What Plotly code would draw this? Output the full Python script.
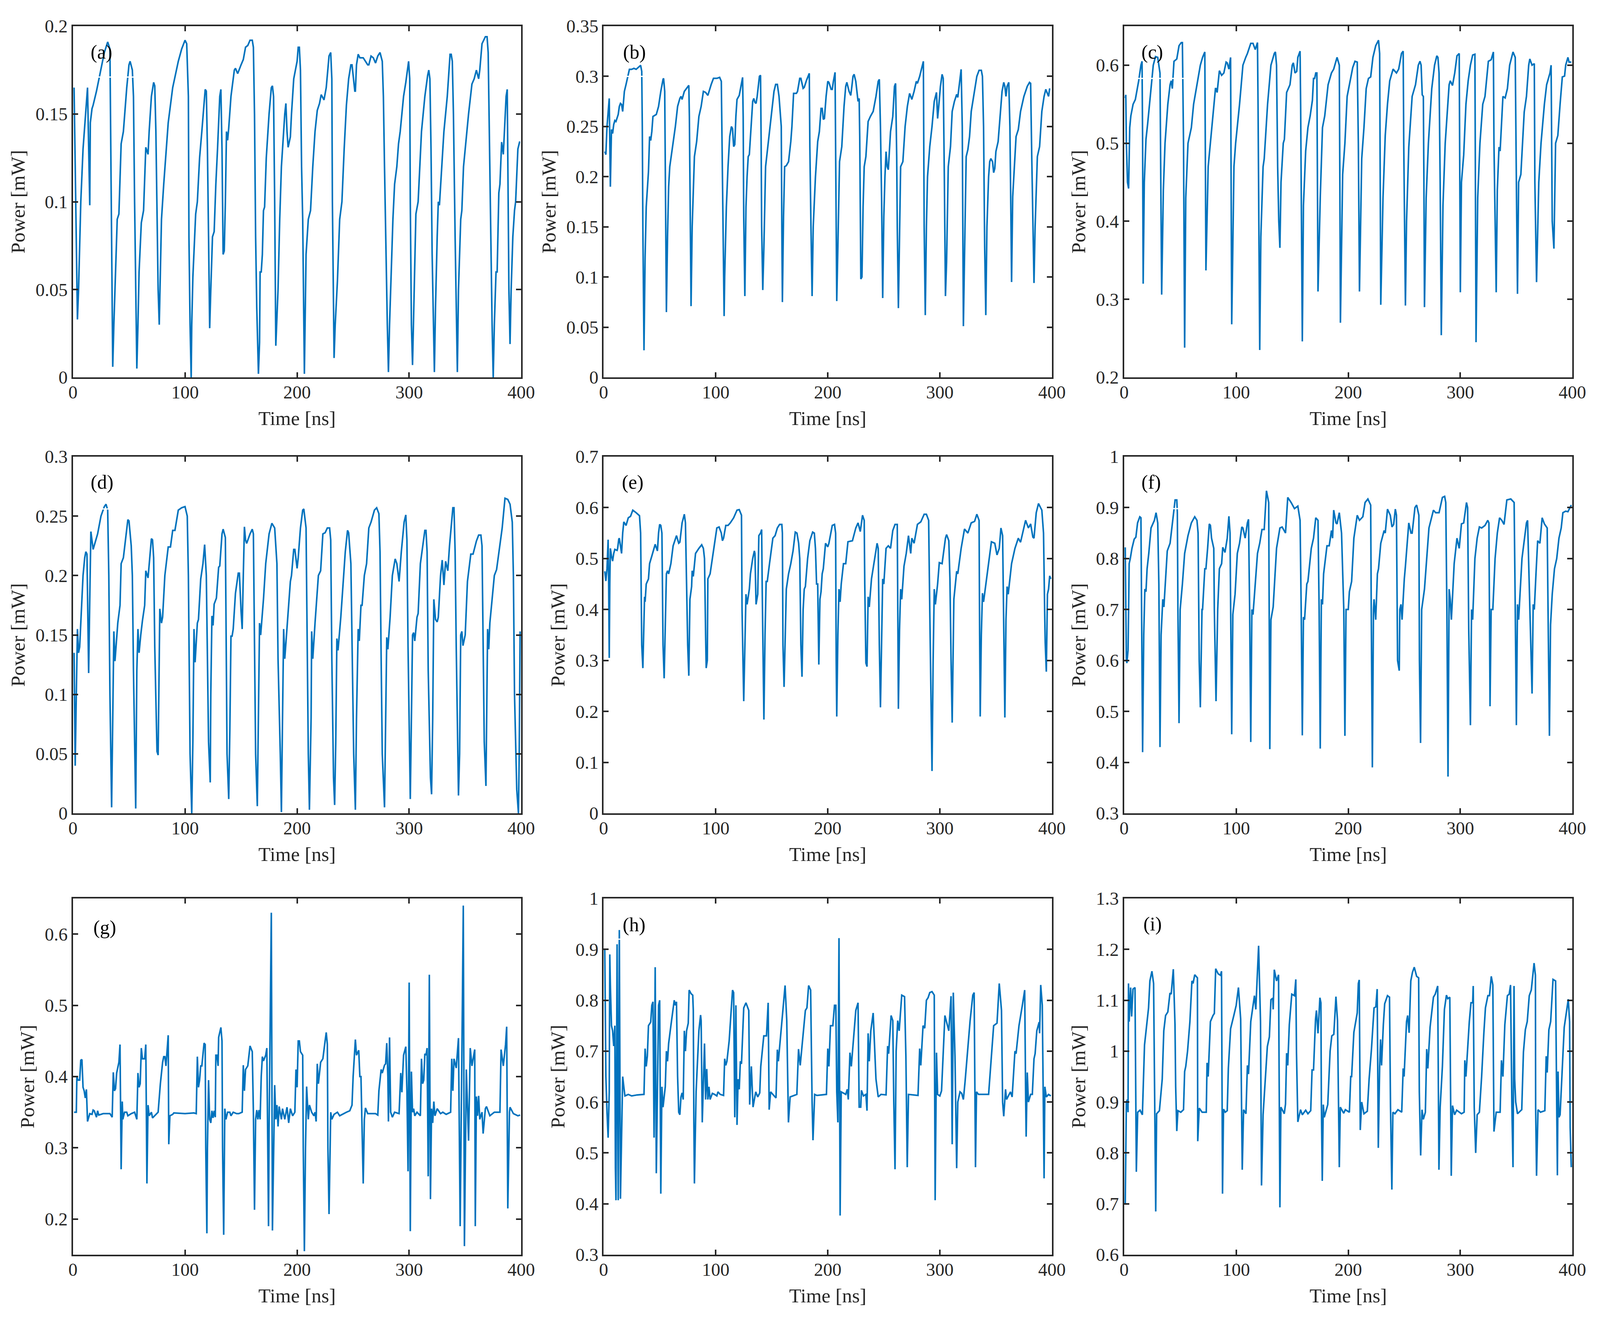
import plotly.graph_objects as go

trace_a = [(1,.165),(4,.033),(5,.05),(7,.1),(9,.13),(12,.155),(13,.165),(15,.098),(15.5,.145),(17,.153),(18,.155),(21,.163),(25,.175),(28,.185),(31,.191),(33,.187),(33.5,.15),(34.5,.07),(35,.04),(35.5,.006),(36.5,.03),(38,.06),(39.5,.09),(41,.093),(43,.133),(45,.14),(48,.165),(50,.178),(51,.18),(53,.175),(54,.16),(55,.1),(56,.05),(57,.005),(58,.03),(59,.06),(61,.088),(63,.095),(65,.131),(67,.127),(68,.14),(70,.16),(72,.168),(73,.166),(74,.14),(75,.1),(76,.05),(77,.03),(78,.06),(79,.09),(81,.11),(85,.145),(89,.165),(94,.18),(97,.187),(100,.192),(101.5,.19),(103,.16),(103.5,.08),(104.5,.03),(105.5,0),(106,.03),(107,.057),(108,.07),(109.5,.093),(111,.1),(113,.125),(115,.14),(117,.158),(118,.164),(119,.163),(120,.13),(121,.08),(122,.028),(123,.05),(124.5,.08),(126,.083),(127.5,.11),(129,.13),(131,.16),(132,.164),(133,.13),(134,.07),(135,.072),(136,.1),(137,.14),(138,.135),(139,.142),(141,.16),(144,.175),(145,.176),(147,.173),(150,.178),(152,.181),(154,.188),(156,.189),(158,.192),(160,.192),(161,.188),(162,.15),(163,.08),(164,.04),(165.5,.002),(166.5,.02),(167,.06),(168,.06),(169,.07),(170,.095),(171,.097),(172.5,.125),(175,.15),(177,.165),(178,.166),(179,.16),(180,.1),(181,.018),(183,.05),(184.5,.09),(186,.12),(189,.15),(190,.156),(191,.14),(192,.131),(194,.137),(195,.15),(197,.17),(200,.18),(201,.188),(202,.188),(203,.175),(204,.12),(205,.09),(206.5,.002),(207,.03),(208,.07),(210,.09),(212,.095),(214,.12),(216,.14),(218,.152),(220,.156),(221.5,.161),(224,.158),(226,.165),(228.5,.183),(230,.185),(231,.17),(231.5,.1),(232.5,.03),(233,.011),(234,.03),(236,.055),(238,.09),(240,.1),(242,.13),(244,.155),(246,.17),(248,.178),(249,.178),(250.5,.17),(251.5,.163),(252,.163),(253,.178),(254.5,.184),(256,.182),(259,.182),(263,.178),(264,.178),(266,.183),(268,.182),(270,.179),(272,.183),(274,.185),(276,.18),(277,.16),(278,.12),(279,.08),(280.5,.03),(281.5,.003),(282.5,.03),(284,.06),(285.5,.09),(287,.11),(289,.12),(290.5,.133),(292,.14),(295,.16),(297,.168),(299.5,.18),(300.5,.17),(301,.1),(302,.03),(303,.007),(304.5,.05),(305.5,.07),(306,.093),(308,.1),(310,.13),(311,.14),(314,.16),(316.5,.172),(317.5,.175),(318.5,.17),(319.5,.13),(320.5,.07),(322.5,.003),(323.5,.04),(325,.08),(326,.1),(327,.098),(329,.12),(331,.14),(334,.16),(336.5,.184),(337.5,.184),(338.5,.18),(339.5,.15),(341,.08),(343,.003),(344,.05),(346,.09),(347,.095),(348.5,.12),(350,.13),(353,.15),(356,.167),(358,.17),(360,.175),(362,.17),(363,.175),(365,.19),(368,.194),(369.5,.194),(370.5,.185),(371.5,.14),(372.5,.09),(374,.03),(375,0),(376,.03),(377.5,.06),(378.5,.06),(380,.105),(381,.11),(382.5,.134),(384,.127),(385,.14),(386.5,.16),(387.5,.164),(388,.13),(389,.05),(390,.019),(391,.05),(392.5,.08),(394,.095),(395,.1),(397,.13),(398.5,.134),(399,.134)]

trace_b = [(1,.225),(2,.222),(3,.25),(4.5,.275),(5,.278),(6,.19),(6.5,.22),(7,.247),(8,.243),(9,.252),(10,.256),(11,.255),(13,.262),(14,.27),(15,.273),(16,.272),(17,.265),(18.5,.285),(20,.292),(21.5,.3),(23,.307),(25,.307),(27,.308),(29,.307),(31,.309),(33,.311),(34,.305),(34.5,.25),(35,.15),(36,.027),(37,.12),(38,.17),(40,.205),(41,.24),(42,.236),(43,.245),(44,.26),(47,.262),(49,.27),(51,.285),(53,.297),(53.5,.298),(54.5,.285),(55,.2),(55.5,.14),(56,.065),(57,.14),(58,.19),(59,.21),(61,.225),(64,.25),(66,.27),(68,.278),(69,.28),(70,.277),(72,.285),(74,.288),(76,.291),(76.5,.26),(77,.2),(78,.071),(79,.15),(81,.22),(83,.235),(85,.26),(87,.27),(89,.285),(91,.284),(93,.281),(96,.292),(98,.298),(101,.298),(103.5,.299),(105,.295),(106,.2),(106.5,.15),(107.5,.061),(108,.1),(109.5,.17),(111,.21),(112.5,.24),(114,.25),(115,.248),(116,.23),(117,.232),(118,.26),(119,.277),(121,.281),(122.5,.29),(124,.299),(124.5,.26),(125,.16),(126,.081),(127,.17),(128,.2),(129,.22),(130,.222),(131.5,.25),(133,.275),(134,.278),(135,.274),(136,.273),(137,.28),(139,.3),(140,.301),(140.5,.24),(141,.15),(142,.087),(143,.13),(144.5,.21),(146,.225),(148,.245),(150,.265),(152,.285),(153.5,.292),(155,.292),(156.5,.28),(158,.26),(158.5,.25),(159,.15),(159.5,.075),(160.5,.16),(161.5,.21),(163,.211),(165,.215),(167,.235),(168,.25),(169.5,.283),(172,.283),(173,.285),(175,.298),(176,.298),(178,.288),(179,.289),(181,.296),(183.5,.303),(184,.23),(185,.15),(186,.081),(187,.15),(189,.2),(191,.235),(192.5,.245),(194,.268),(195,.268),(196,.257),(197,.258),(198.5,.28),(200,.295),(201,.294),(203,.287),(204,.287),(205,.295),(206.5,.304),(207,.23),(207.5,.16),(208,.076),(209,.13),(210.5,.215),(212.5,.23),(214.5,.27),(216,.29),(217,.294),(219,.285),(220.5,.281),(221.5,.29),(222.5,.3),(223.5,.302),(225,.295),(227,.275),(228,.278),(228.5,.24),(229.5,.098),(230.5,.1),(231.5,.17),(232.5,.21),(234,.22),(236,.255),(238,.26),(240.5,.265),(243,.28),(245,.295),(246,.297),(247,.25),(248,.18),(249,.079),(250,.16),(251,.2),(252,.225),(253,.21),(254,.207),(256,.245),(258,.26),(259.5,.29),(260.5,.293),(261.5,.22),(262,.15),(263,.069),(264,.15),(265,.21),(267,.215),(269,.25),(271,.27),(273,.283),(275,.277),(277,.285),(279,.295),(280,.293),(282,.3),(285,.314),(285.3,.315),(285.7,.22),(286,.15),(287,.062),(288,.15),(289,.2),(291,.23),(293,.25),(295,.275),(297,.284),(298,.258),(299,.27),(300.5,.29),(302,.302),(303,.298),(304,.2),(305,.081),(306,.115),(307.5,.21),(309.5,.23),(311,.265),(313,.275),(315,.282),(316,.279),(318,.3),(319,.307),(320,.25),(320.5,.15),(321,.051),(322,.12),(323.5,.22),(325,.227),(326.5,.24),(328,.265),(330,.28),(333,.3),(335,.306),(337,.306),(338,.3),(339,.25),(340,.13),(341,.062),(342,.15),(343.5,.2),(344.5,.215),(345.5,.218),(347,.215),(348,.204),(349,.208),(350,.225),(352,.235),(354,.265),(355.5,.285),(357,.294),(358,.29),(359,.28),(360,.29),(361.5,.294),(362.5,.25),(363.5,.15),(364,.095),(365,.18),(366.5,.21),(368,.24),(370,.247),(372,.265),(375,.28),(378,.29),(380,.294),(381,.293),(382,.22),(383,.15),(384,.094),(385,.15),(387,.22),(389,.23),(391,.265),(393,.28),(394.5,.287),(397,.28),(398,.288)]

trace_c = [(1,.558),(1.5,.562),(2,.5),(3,.45),(4,.442),(5,.52),(6,.535),(8,.55),(10,.556),(13,.58),(15,.6),(16,.605),(16.5,.5),(17,.32),(18,.45),(19.5,.505),(21,.525),(24,.57),(26,.6),(28,.611),(30,.61),(32,.59),(32.5,.5),(33,.4),(33.5,.306),(35,.44),(36.5,.5),(39,.55),(41,.575),(42,.58),(43,.57),(44.5,.605),(47,.608),(49,.625),(51,.629),(52,.629),(53,.5),(54,.238),(55,.43),(57,.5),(60,.52),(62,.55),(65,.575),(68,.6),(70,.61),(72,.617),(72.5,.48),(73,.337),(75,.47),(77,.5),(80,.55),(81.5,.57),(82,.57),(83,.565),(85,.593),(87,.587),(89,.59),(91,.604),(92,.603),(93.5,.595),(95,.61),(95.5,.48),(96,.268),(98,.47),(99.5,.5),(103,.55),(106,.6),(108.5,.61),(110,.615),(113,.628),(115,.628),(117,.62),(119,.629),(119.5,.55),(120,.42),(121,.235),(122,.38),(124,.47),(125,.48),(128,.55),(131,.6),(134,.615),(135,.617),(136,.6),(137,.47),(138,.4),(139,.366),(140,.45),(142,.5),(143,.505),(145,.565),(148,.575),(150,.6),(151,.603),(152.5,.59),(154,.592),(155,.61),(157,.618),(157.5,.55),(158,.45),(159,.246),(160,.42),(162,.49),(164,.52),(166,.535),(168,.555),(169,.583),(170,.583),(171,.59),(172,.59),(172.5,.45),(173,.31),(175,.43),(177,.52),(179,.535),(182,.575),(185,.59),(187,.595),(190,.61),(192,.6),(192.5,.45),(193,.27),(195,.46),(197,.5),(199,.56),(201,.575),(204,.597),(206,.605),(208,.604),(209,.5),(210,.31),(212,.48),(214,.52),(216,.57),(218,.583),(220,.585),(222,.61),(224.5,.625),(227,.632),(228,.615),(228.5,.45),(229,.293),(231,.43),(233,.51),(235,.55),(237,.58),(240,.595),(243,.59),(245,.595),(247.5,.615),(249,.618),(249.5,.5),(251,.292),(252,.4),(254,.495),(257,.56),(260,.575),(262.5,.6),(264,.605),(265,.6),(266,.562),(267,.56),(267.5,.45),(268,.29),(269.5,.43),(271.5,.5),(274.5,.57),(277,.6),(279,.612),(280,.61),(281,.59),(282,.45),(283,.254),(284.5,.42),(286.5,.5),(290,.575),(291,.58),(293,.574),(295,.59),(297,.612),(299,.615),(299.5,.45),(300,.309),(301,.45),(303,.485),(305,.55),(307,.58),(309,.6),(311,.613),(313,.614),(313.5,.45),(314,.245),(315.5,.43),(317.5,.5),(320,.55),(322,.56),(325,.605),(327.5,.607),(329.5,.617),(330,.5),(332,.309),(333,.44),(334.5,.495),(335.5,.49),(338,.56),(340,.558),(342,.57),(344,.6),(347,.617),(349,.61),(350,.45),(351,.307),(352,.45),(354,.46),(357,.54),(359,.56),(361,.6),(362,.608),(364,.6),(366,.602),(366.5,.45),(368,.322),(370,.45),(372,.5),(375,.55),(377,.575),(380,.59),(381,.6),(382,.4),(383.5,.365),(385,.5),(387,.51),(389,.55),(391,.585),(393,.586),(394,.6),(396,.61),(397,.604),(399,.604)]

trace_d = [(1,.135),(2,.04),(3,.1),(4,.155),(5,.135),(6,.14),(8,.18),(9,.2),(10.5,.215),(11.5,.22),(12.5,.218),(13,.18),(14,.118),(15,.18),(16,.237),(18,.222),(20.5,.23),(22,.235),(25,.25),(28,.258),(29.5,.26),(31,.255),(32,.2),(33,.1),(34.5,.005),(35.5,.07),(36.5,.153),(37.5,.128),(38.5,.14),(40,.16),(42,.175),(43,.21),(45,.215),(47,.23),(49,.247),(50,.246),(52,.225),(53,.2),(54,.12),(56,.004),(57,.12),(58,.155),(59,.135),(60.5,.15),(62,.162),(64,.175),(65,.204),(67,.198),(68,.21),(70,.231),(71,.23),(72,.215),(73,.14),(75,.052),(76,.049),(76.5,.1),(77.5,.172),(79,.16),(80,.165),(82,.2),(85,.224),(87,.224),(89,.238),(91,.238),(94,.255),(97,.257),(100,.258),(102,.25),(103,.2),(104.5,.05),(106,0),(107,.06),(108,.155),(109,.127),(111,.16),(112,.163),(114,.197),(116,.21),(117.5,.226),(119,.2),(120,.12),(121,.06),(122.5,.026),(123,.1),(124,.166),(125,.158),(126,.176),(128,.181),(130,.207),(131,.208),(133,.235),(134,.239),(136,.232),(137,.1),(137.5,.05),(139,.012),(140,.07),(141,.149),(142,.149),(143,.155),(145,.185),(147.5,.202),(148.5,.202),(150,.17),(151,.155),(152,.2),(153,.241),(154,.23),(155,.227),(158,.235),(160,.239),(161,.235),(162,.15),(163,.05),(164.5,.006),(165.5,.08),(166.5,.16),(167.5,.15),(170,.18),(172,.21),(175,.235),(177.5,.244),(180,.24),(182,.21),(183,.13),(185,.05),(186,.001),(187,.08),(188,.155),(189,.13),(190.5,.15),(192,.17),(194,.195),(195,.2),(197,.222),(198,.222),(200,.206),(201,.215),(203,.24),(205,.255),(206,.256),(208,.24),(209,.15),(210,.05),(211,.003),(212.5,.08),(213,.153),(214,.13),(216,.16),(219,.2),(221,.204),(223,.235),(225,.236),(227,.24),(229,.24),(230,.23),(231,.13),(232.5,.03),(233.5,.007),(234.5,.06),(235.5,.147),(236.5,.137),(239,.165),(241,.195),(243,.22),(245,.238),(246,.236),(248,.21),(249,.15),(250.5,.05),(252,.003),(253,.08),(254.5,.155),(255.5,.145),(257,.175),(258,.175),(260,.2),(262,.21),(264,.24),(266,.245),(269,.255),(271,.257),(273,.252),(274,.22),(275,.13),(276,.05),(278,.005),(279,.07),(280,.148),(281,.138),(283,.165),(285,.2),(287.5,.214),(289,.21),(291,.195),(293,.22),(295.5,.245),(297,.251),(298,.23),(299,.14),(301,.012),(302,.08),(303,.15),(304,.152),(305,.145),(307,.165),(308,.168),(310,.21),(312,.225),(314,.238),(315,.238),(316,.22),(317,.12),(319,.03),(320,.016),(321,.08),(322,.18),(323.5,.163),(325,.161),(326,.165),(328,.2),(329.5,.213),(331,.192),(332.5,.212),(334.5,.204),(336,.225),(339,.257),(340,.257),(341,.22),(342,.14),(344,.015),(345,.05),(346,.15),(347,.153),(348,.141),(350,.15),(352,.195),(354,.21),(355,.218),(357,.218),(360,.229),(362,.234),(364,.234),(365,.225),(366,.15),(367,.06),(368.5,.023),(369,.08),(370,.155),(371,.138),(372,.16),(374,.18),(376,.2),(378,.205),(380,.22),(383,.24),(385.5,.265),(388,.264),(390,.26),(392,.245),(393,.2),(394,.1),(396,.02),(397.5,0),(398.2,.05),(399,.153)]

trace_e = [(1,.475),(2,.456),(3,.48),(4,.537),(4.5,.45),(5,.305),(5.5,.45),(6,.52),(7,.505),(8,.495),(9,.51),(10,.518),(12,.516),(12.5,.52),(13.5,.538),(14,.54),(15,.525),(16,.51),(17,.55),(18,.572),(20,.565),(22,.58),(24,.583),(26,.595),(29,.59),(32,.584),(33,.55),(33.5,.4),(34,.33),(35,.285),(36,.4),(36.5,.425),(37,.415),(38,.45),(40,.46),(41,.49),(43,.505),(45.5,.525),(46,.528),(48,.515),(49,.55),(50,.567),(51,.565),(52,.55),(52.5,.4),(53,.33),(54,.265),(55,.38),(56,.47),(57,.476),(58,.47),(60,.49),(62,.525),(65,.545),(67,.53),(68,.532),(70,.57),(72,.587),(73,.57),(74,.45),(75,.33),(76,.27),(77,.42),(78.5,.445),(79,.476),(80,.465),(82,.51),(85,.52),(87.5,.527),(89,.52),(90,.5),(91,.35),(91.5,.285),(92.5,.3),(93,.46),(95,.47),(97,.5),(99,.53),(101,.56),(103,.562),(105,.55),(106,.535),(107,.54),(109,.565),(111,.565),(113,.57),(116,.58),(119,.595),(121,.596),(123,.585),(123.5,.4),(125,.22),(126,.33),(127,.43),(128,.41),(130,.44),(131,.47),(133,.5),(134.5,.515),(135,.51),(136,.41),(137.5,.43),(138.5,.545),(140,.55),(141,.557),(141.5,.44),(143,.184),(144,.35),(145,.455),(146,.455),(148,.49),(151,.54),(153,.545),(155,.56),(157,.567),(159,.567),(159.5,.55),(160,.33),(161,.248),(162,.33),(163,.44),(165,.47),(167,.49),(169,.515),(171,.552),(172.5,.55),(174,.53),(175,.5),(176,.33),(177,.268),(178,.4),(179,.44),(180,.445),(182,.5),(184,.535),(186.5,.552),(188,.55),(189,.52),(190,.45),(191,.45),(192,.292),(193,.42),(194,.435),(195,.47),(196,.48),(198,.53),(200,.523),(201,.53),(204,.565),(206,.567),(207,.55),(207.5,.3),(208,.19),(209,.35),(210,.44),(211,.415),(212,.45),(214,.49),(216,.49),(218,.533),(222,.535),(225,.56),(227,.57),(229,.553),(231,.585),(232.5,.575),(233,.45),(234,.295),(235,.288),(236,.425),(237,.405),(239,.46),(241,.49),(243,.52),(244,.53),(245,.52),(246,.33),(247,.208),(248,.33),(249,.46),(250,.45),(252,.52),(254,.525),(256,.52),(258,.555),(260,.567),(262,.567),(262.5,.4),(263,.205),(264,.36),(265,.44),(266,.42),(268,.485),(270,.51),(272,.545),(274,.51),(275,.54),(277,.53),(280,.567),(283,.572),(286,.587),(288,.587),(290,.575),(291,.4),(293,.083),(294,.3),(295,.44),(296,.41),(298,.45),(299.5,.492),(302,.49),(305,.54),(306,.547),(308,.535),(309,.46),(310,.3),(311,.178),(312.5,.42),(315,.475),(316,.47),(319,.52),(322,.558),(325,.55),(328,.57),(331,.573),(333,.587),(335,.575),(335.5,.35),(336,.19),(337,.35),(338,.432),(339,.415),(341,.45),(344,.5),(346,.533),(349,.53),(351,.507),(353,.52),(354.5,.56),(356,.545),(357,.38),(358,.188),(359,.38),(360,.445),(361,.43),(364,.49),(367,.52),(370,.54),(372,.532),(374,.55),(376.5,.575),(379,.56),(381,.568),(383,.542),(384,.54),(386,.59),(388,.608),(391,.595),(392.5,.55),(393.5,.4),(394,.335),(395,.278),(396,.43),(397,.44),(398,.466),(399,.46)]

trace_f = [(1,.822),(2,.6),(2.5,.595),(3.5,.62),(4,.7),(4.5,.79),(5.5,.8),(7,.82),(9,.838),(10.5,.842),(12,.87),(14,.882),(15,.88),(15.5,.7),(16,.55),(16.5,.42),(17.5,.65),(18.5,.74),(19.5,.735),(20.5,.78),(22,.81),(24,.86),(27,.875),(28.5,.89),(30,.87),(31,.75),(32,.43),(33,.65),(34.5,.72),(35.5,.705),(37,.76),(38.5,.815),(41,.83),(43,.87),(45.5,.915),(47,.915),(47.5,.89),(48,.7),(49,.477),(50,.7),(52,.75),(54,.81),(57,.845),(60,.87),(63,.882),(65,.875),(66,.85),(67,.6),(68,.508),(69.5,.7),(70,.7),(72,.78),(73,.78),(74.5,.82),(76,.868),(77,.865),(78,.84),(80,.82),(80.5,.7),(82,.52),(83.5,.7),(85,.78),(87,.79),(88,.822),(90,.812),(92,.84),(93.5,.883),(94.5,.85),(95,.7),(96,.455),(97,.69),(99,.73),(101,.81),(103,.83),(105,.862),(106,.86),(108,.84),(110,.87),(111,.877),(112,.7),(113,.44),(114,.7),(115,.69),(117,.75),(119,.81),(121,.83),(123,.857),(125,.857),(127,.933),(129,.91),(129.5,.7),(130,.426),(131,.68),(133,.705),(136,.82),(139,.86),(141,.862),(144,.85),(146,.92),(149,.91),(152,.898),(155,.903),(157,.875),(158,.7),(159,.453),(160,.685),(161,.68),(163,.75),(164,.755),(167,.82),(169,.84),(171,.88),(173,.875),(174,.7),(175,.427),(176,.72),(177,.71),(178,.77),(181,.825),(183,.825),(185,.855),(186,.84),(187,.895),(189,.87),(190,.868),(192,.89),(194,.85),(196,.7),(197,.452),(198,.7),(200,.7),(201,.735),(203,.755),(205,.84),(208,.885),(210,.875),(213,.882),(215,.91),(217.5,.917),(220,.905),(220.5,.7),(221.5,.39),(222.5,.7),(223,.72),(224.5,.68),(226,.77),(227,.78),(229,.83),(232,.855),(233,.85),(235,.897),(237.5,.885),(239,.862),(240.5,.867),(242,.897),(243,.885),(244,.6),(245.5,.58),(246,.7),(247,.71),(248,.68),(250,.76),(251,.785),(254,.87),(256,.85),(257,.85),(259.5,.9),(261,.905),(263,.885),(263.5,.6),(264.5,.438),(265.5,.7),(268,.74),(270,.8),(272,.86),(276,.895),(278,.89),(281,.89),(284,.92),(286,.922),(287,.91),(288,.7),(289,.372),(290,.74),(291,.72),(292,.68),(294.5,.79),(297,.84),(299,.82),(301,.868),(303,.87),(305.5,.91),(306.5,.9),(307.5,.66),(309,.473),(310,.7),(311,.68),(313,.8),(315,.84),(317,.862),(319,.86),(322,.865),(324.5,.875),(325.5,.87),(326,.7),(326.5,.51),(327.5,.7),(329,.7),(331,.8),(333,.85),(335,.88),(337,.875),(339,.867),(341.5,.915),(345,.917),(348,.91),(349,.7),(350,.473),(351,.71),(352,.68),(355,.8),(359,.87),(360,.875),(362,.7),(364,.535),(365,.71),(366,.7),(367.5,.77),(369,.835),(371,.83),(373,.88),(375,.868),(377.5,.86),(378.5,.65),(379.5,.452),(380.5,.67),(382,.73),(384,.78),(386,.8),(388,.84),(390,.86),(391.5,.89),(394,.893),(396,.892),(398,.9),(399,.905)]

trace_g = [(1,.35),(3,.35),(3.5,.4),(4.5,.395),(6,.395),(7,.423),(8,.424),(9,.385),(10,.38),(11,.37),(12,.382),(13,.337),(15,.348),(17,.347),(18,.353),(19,.352),(21,.343),(22,.352),(23,.346),(27,.348),(33,.348),(35,.343),(36,.406),(37,.38),(38,.383),(39,.405),(41,.42),(42,.445),(43,.27),(44,.365),(44.5,.34),(46,.35),(48,.35),(49,.345),(52,.348),(55,.35),(57,.34),(58,.405),(59,.385),(60,.39),(61,.44),(62,.425),(64,.425),(65,.445),(66,.25),(67,.36),(68,.345),(70,.35),(71,.342),(74,.347),(76,.35),(78,.39),(80,.42),(81,.428),(82,.428),(83,.415),(85,.458),(85.5,.305),(86.5,.345),(89,.347),(90,.349),(100,.348),(108,.349),(110,.348),(111,.428),(112,.385),(113,.395),(114,.415),(115,.415),(117,.447),(118,.445),(118.5,.3),(119.5,.18),(120,.3),(121,.395),(122,.34),(123,.335),(124,.352),(125,.342),(126,.352),(127,.343),(127.5,.43),(128.5,.43),(129.5,.415),(130,.455),(132,.469),(133,.45),(133.5,.3),(134.5,.178),(135.5,.355),(136.5,.34),(138,.35),(140,.35),(141,.345),(143,.35),(146,.348),(148,.348),(151,.35),(152,.416),(153,.38),(154,.41),(156,.415),(158,.443),(160,.435),(161,.35),(162,.213),(163,.34),(164,.353),(165,.34),(166,.353),(167,.34),(168,.4),(169,.428),(170,.422),(172,.43),(173,.44),(174,.3),(174.5,.19),(175,.325),(176,.468),(177,.63),(178,.184),(180,.388),(181,.34),(182,.36),(183,.33),(184,.358),(186,.34),(187,.355),(189,.34),(191,.357),(192.5,.335),(194,.355),(196,.345),(198,.35),(199,.41),(200,.385),(201,.45),(202,.45),(203,.435),(205,.43),(205.5,.3),(206.5,.155),(207.5,.3),(208.5,.386),(210,.34),(211,.36),(213,.35),(215,.345),(216,.35),(217,.337),(218,.418),(219,.39),(221,.42),(223,.425),(225,.45),(226,.462),(227,.445),(227.5,.3),(228.5,.207),(230,.35),(231,.34),(233,.347),(236,.35),(238,.345),(244,.35),(247,.352),(249,.36),(250,.4),(252,.452),(253,.43),(255,.437),(256,.4),(257,.4),(259,.25),(260,.34),(261,.356),(263,.348),(270,.348),(272,.346),(273,.38),(275,.41),(276,.405),(278,.416),(279,.418),(280,.447),(281,.4),(281.5,.337),(282.5,.455),(283.5,.35),(285,.343),(287,.35),(291,.348),(292.5,.405),(293.5,.378),(295,.43),(297,.442),(298,.38),(299,.267),(300,.532),(301,.183),(302,.407),(303,.35),(304,.355),(305,.345),(307,.35),(310,.345),(311,.425),(312,.39),(313,.395),(314,.432),(315,.43),(316,.44),(317,.26),(318,.543),(319,.228),(320,.355),(321,.335),(322,.365),(323,.345),(325,.355),(328,.348),(330,.35),(333,.347),(337,.35),(338,.425),(339,.38),(340,.425),(342,.412),(344,.454),(345.5,.19),(347.5,.505),(348.3,.64),(349.3,.162),(351,.41),(353,.31),(354.5,.44),(356,.415),(358.5,.438),(359,.19),(360,.372),(361,.345),(362,.373),(363,.34),(365,.35),(366,.32),(368,.355),(369,.358),(372,.345),(376,.35),(381,.35),(382,.438),(384,.415),(386,.445),(387,.47),(388,.215),(389.5,.35),(390,.357),(393,.348),(397,.345),(399,.346)]

trace_h = [(1,.9),(2,.65),(3,.58),(4,.53),(5,.62),(5.5,.89),(6,.83),(7,.75),(8,.74),(9,.71),(10,.75),(10.5,.47),(11,.407),(12,.91),(13,.407),(14,.938),(15,.41),(16,.55),(17,.65),(18,.63),(19,.612),(22,.615),(25,.612),(30,.614),(36,.615),(37,.705),(38,.67),(39,.69),(40,.75),(42,.757),(43,.79),(44,.797),(45,.53),(46,.865),(47,.46),(48,.62),(49,.79),(50,.8),(51,.42),(52,.63),(53,.59),(55,.63),(56,.7),(57,.68),(58,.715),(60,.75),(63,.8),(64,.79),(65,.797),(66,.65),(67,.58),(68,.575),(69,.61),(70,.618),(71,.605),(72,.74),(73,.7),(74,.74),(75.5,.755),(76.3,.82),(78,.813),(79.5,.81),(80,.78),(80.5,.56),(81,.44),(82.5,.62),(84,.7),(85,.74),(86.5,.771),(87,.76),(88,.56),(90,.715),(91,.605),(92,.665),(93,.605),(94,.63),(95,.605),(97,.617),(99,.615),(101,.612),(102,.62),(104,.615),(107,.613),(108,.685),(109,.672),(110,.68),(112,.72),(115,.82),(116,.815),(117,.57),(118,.79),(119,.555),(120,.645),(121,.625),(122,.68),(123,.675),(125,.785),(127,.795),(129.5,.78),(130.3,.595),(131.8,.67),(133.3,.59),(135.7,.62),(137.5,.61),(139.3,.618),(140.2,.67),(142.9,.73),(145.3,.73),(146.8,.795),(147.7,.585),(149,.62),(153.8,.608),(155,.703),(155.9,.68),(161.9,.829),(163.4,.76),(164.9,.56),(166.4,.61),(172.4,.615),(173.9,.704),(175.4,.672),(180,.78),(181.4,.785),(182.9,.829),(184.7,.82),(186,.6),(186.8,.525),(188.3,.615),(190.3,.613),(198.8,.615),(200,.705),(201,.67),(202.4,.75),(204.5,.75),(206,.79),(207.2,.79),(208,.62),(209,.56),(210,.922),(211,.377),(212,.62),(216,.615),(217.4,.625),(218.3,.605),(219.8,.697),(221,.67),(225,.78),(227,.795),(228,.59),(229.4,.59),(230,.623),(231.8,.612),(234,.615),(235,.583),(236,.735),(237,.68),(238.4,.74),(240.5,.775),(243,.645),(245,.61),(247.5,.615),(252,.614),(253.4,.71),(254.3,.695),(256.5,.77),(258,.76),(258.9,.6),(260,.468),(261,.7),(262.4,.76),(263.7,.74),(266,.81),(268.5,.807),(269.7,.69),(270.9,.472),(272,.615),(280.5,.613),(282,.705),(283,.672),(285,.75),(286.5,.745),(288,.8),(289.5,.805),(291,.815),(293,.817),(295,.81),(295.8,.407),(297,.697),(298,.615),(300,.612),(301.5,.622),(303,.69),(304.5,.77),(308,.74),(310,.808),(311,.517),(312,.815),(313.5,.69),(315,.47),(316,.6),(318,.62),(319.5,.617),(321,.605),(322.5,.64),(325,.71),(327,.76),(329.4,.81),(330.6,.815),(331.8,.472),(332.7,.62),(334.5,.615),(343.5,.615),(345,.66),(348,.75),(351,.755),(353,.833),(355,.78),(356,.6),(357,.572),(358.6,.625),(359.5,.605),(363,.62),(364.5,.61),(367,.7),(368,.695),(370.6,.75),(373.6,.79),(375.7,.82),(376.6,.6),(377,.532),(378,.658),(379,.6),(381,.615),(382.5,.615),(384,.685),(385,.695),(386.5,.74),(388.6,.757),(389,.735),(390,.83),(391.4,.79),(392.6,.57),(393,.45),(393.7,.63),(395,.61),(397,.615),(399,.612)]

trace_i = [(1,.7),(2,.9),(3,.905),(3.5,.88),(3.9,1.133),(4.5,1.058),(5.8,1.125),(6.7,1.068),(7.9,1.122),(9.7,1.125),(10.9,.763),(12.1,.88),(14.2,.884),(16.3,.875),(18.2,1.012),(20.3,1.058),(21.8,1.085),(23,1.138),(24.8,1.157),(26.3,1.133),(27.2,.945),(28.2,.685),(29,.877),(31.5,.883),(34,.945),(35.4,1.04),(37,1.07),(39,1.077),(40.9,1.114),(42,1.112),(43.9,1.161),(45.4,1.052),(46,.93),(47,.843),(48,.883),(50.6,.88),(53,.885),(54,.96),(55,.97),(56.6,1.0),(58.7,1.058),(60.5,1.138),(61.5,1.133),(63,1.15),(65.4,1.144),(65.7,.823),(67,.888),(69.6,.88),(73.3,.88),(74,.977),(75,.95),(77,1.058),(79.3,1.07),(80.5,1.074),(81.7,1.162),(83.9,1.152),(86,1.149),(86.9,1.157),(87.8,.72),(88.7,.886),(90.2,.88),(92,.883),(93,.966),(95,1.044),(98,1.071),(100,1.09),(102,1.125),(104,1.063),(104.8,.89),(105.4,.767),(106.6,.885),(108.7,.877),(110,.972),(111,.955),(113,1.058),(115,1.09),(116.3,1.109),(117.5,1.082),(120,1.207),(121.7,1.058),(122.6,.736),(124,.875),(126,.945),(127.8,1.009),(129.6,1.028),(131,1.101),(132.6,1.104),(133,1.082),(134,1.16),(136,1.138),(137.8,1.15),(138.4,.945),(139,.693),(139.9,.89),(142.9,.877),(144,.896),(145,.996),(146,.972),(147.4,1.052),(149.6,1.112),(152,1.109),(153.2,1.141),(153.8,.998),(155,.861),(157.4,.885),(159,.875),(162,.884),(164,.877),(166.5,.883),(167.7,.963),(169,.963),(170.8,1.063),(171.6,1.08),(173,1.035),(174.7,1.105),(175.6,1.095),(176,.9),(176.8,.745),(177.7,.895),(178.6,.87),(181.7,.895),(183.8,1),(185.3,1.03),(187.1,1.033),(189,1.107),(190.4,1.06),(191.3,.9),(192,.772),(192.9,.89),(195.9,.878),(197.4,.885),(201,.88),(202.2,.95),(203,.95),(205,1.037),(208,1.075),(209,1.133),(209.8,1.14),(210.7,.845),(212,.9),(214,.877),(217,.882),(218.6,.945),(220.7,1.004),(223,1.085),(224.6,1.087),(225.8,1.122),(226.8,.81),(228,.97),(228.8,1.023),(229.7,.972),(231.3,1.052),(232.5,1.093),(235,1.109),(236.8,1.106),(237.7,.89),(238.9,.728),(239.8,.88),(241.6,.877),(244.3,.885),(247.7,.88),(249,.966),(249.8,.95),(252,1.058),(253,1.07),(254.3,1.036),(255.8,1.138),(257.3,1.155),(258.9,1.165),(261,1.147),(262.8,1.144),(263.4,.92),(264.6,.795),(265.8,.885),(267,.866),(268.8,.88),(270,1.004),(271,.966),(273,1.047),(276,1.106),(277.6,1.112),(279.8,1.128),(280.9,.767),(282,.89),(284,.97),(285.8,1.082),(287.6,1.11),(288.8,1.103),(290.6,1.106),(291.5,.89),(291.9,.755),(293,.893),(294.9,.875),(296.7,.884),(301,.877),(303.4,.88),(304,.982),(305,.95),(308,1.058),(309.5,1.095),(311,1.095),(311.5,1.128),(312.4,.89),(313.7,.8),(315,.875),(317,.88),(319,.95),(321,1.036),(322.4,1.085),(324.6,1.109),(326,1.109),(327.6,1.147),(329,1.13),(330,.842),(332,.88),(335.5,.88),(336.7,.982),(338,.95),(339.7,1.052),(342,1.109),(343.6,1.112),(344.8,1.13),(346,.89),(347,.772),(347.9,1.128),(348.5,.945),(349.4,.9),(351,.877),(354.8,.885),(356.3,.998),(358,1.042),(359.7,1.058),(361.5,1.109),(363.3,1.12),(365.8,1.173),(367,1.149),(367.2,.89),(368,.755),(369.3,.885),(371.5,.88),(375.4,.883),(376.6,.99),(377.5,.958),(379,1.042),(380.6,1.058),(382.7,1.141),(385,1.138),(386,.89),(386.6,.756),(387.2,.96),(388,.87),(389,.875),(391,.977),(392.7,1.047),(394.8,1.079),(396.3,1.102),(397.5,1.058),(398,.85),(399,.772)]

panel_names = ["(a)", "(b)", "(c)", "(d)", "(e)", "(f)", "(g)", "(h)", "(i)"]
traces = [trace_a, trace_b, trace_c, trace_d, trace_e, trace_f, trace_g, trace_h, trace_i]
x_ticks = [0, 100, 200, 300, 400]
y_ranges = [(0, .2), (0, .35), (.2, .65), (0, .3), (0, .7), (.3, 1), (.15, .65), (.3, 1), (.6, 1.3)]
y_ticks = [
    ["0", "0.05", "0.1", "0.15", "0.2"],
    ["0", "0.05", "0.1", "0.15", "0.2", "0.25", "0.3", "0.35"],
    ["0.2", "0.3", "0.4", "0.5", "0.6"],
    ["0", "0.05", "0.1", "0.15", "0.2", "0.25", "0.3"],
    ["0", "0.1", "0.2", "0.3", "0.4", "0.5", "0.6", "0.7"],
    ["0.3", "0.4", "0.5", "0.6", "0.7", "0.8", "0.9", "1"],
    ["0.2", "0.3", "0.4", "0.5", "0.6"],
    ["0.3", "0.4", "0.5", "0.6", "0.7", "0.8", "0.9", "1"],
    ["0.6", "0.7", "0.8", "0.9", "1", "1.1", "1.2", "1.3"],
]
# thin white strips left by the label boxes in the source figure: panel, level, start, end
label_strips = [(0, .171, 18, 56), (1, .3, 20, 37), (2, .583, 12, 56), (3, .256, 25, 33), (5, .898, 43, 50), (7, .92, 12, 16)]

W, H = 4233, 3374
INK = "#262626"
BLUE = "#0072BD"
FONT = "Liberation Serif"
columns = [(193, 1379), (1597, 2783), (2974, 4160)]
rows = [(67, 966), (1169, 2082), (2300, 3212)]
label_offset = [(45, 66), (49, 66), (44, 66), (45, 65), (46, 65), (44, 65), (52, 74), (48, 67), (49, 65)]

fig = go.Figure()
layout = dict(
    template="none", width=4096, height=3374, margin=dict(l=0, r=0, t=0, b=0, pad=0), autosize=False,
    paper_bgcolor="white", plot_bgcolor="white", showlegend=False,
    font=dict(family=FONT, size=48, color=INK),
)
shapes, annotations = [], []
for i, pts in enumerate(traces):
    ax = "" if i == 0 else str(i + 1)
    (l, r), (t, b) = columns[i % 3], rows[i // 3]
    fig.add_trace(go.Scatter(
        x=[p[0] for p in pts], y=[p[1] for p in pts], mode="lines",
        line=dict(color=BLUE, width=4), xaxis="x" + ax, yaxis="y" + ax,
        hoverinfo="skip",
    ))
    common = dict(
        showgrid=False, zeroline=False, showline=True, linecolor=INK, linewidth=4,
        mirror="allticks", ticks="inside", ticklen=13, tickwidth=4, tickcolor=INK,
        tickfont=dict(family=FONT, size=47, color=INK), tickmode="array", automargin=False,
    )
    layout["xaxis" + ax] = dict(
        common, domain=[l / W, r / W], range=[0, 400], anchor="y" + ax,
        tickvals=x_ticks, ticktext=[str(v) for v in x_ticks], ticklabelstandoff=-6,
        title=dict(text="Time [ns]", font=dict(family=FONT, size=51, color=INK), standoff=24),
    )
    layout["yaxis" + ax] = dict(
        common, domain=[1 - b / H, 1 - t / H], range=list(y_ranges[i]), anchor="x" + ax,
        tickvals=[float(s) for s in y_ticks[i]], ticktext=y_ticks[i],
        title=dict(text="Power [mW]", font=dict(family=FONT, size=51, color=INK), standoff=12),
    )
    dx, dy = label_offset[i]
    annotations.append(dict(
        text=panel_names[i], xref="paper", yref="paper", x=(l + dx) / W, y=1 - (t + dy) / H,
        xanchor="left", yanchor="middle", showarrow=False,
        font=dict(family=FONT, size=50, color="black"),
    ))
for panel, level, x0, x1 in label_strips:
    ax = "" if panel == 0 else str(panel + 1)
    shapes.append(dict(type="line", xref="x" + ax, yref="y" + ax, x0=x0, x1=x1, y0=level, y1=level,
                       line=dict(color="white", width=3)))
layout["shapes"] = shapes
layout["annotations"] = annotations
fig.update_layout(**layout)
# The browser may cap its viewport below the requested window, so fit the figure to what it really has.
fit_to_window = """
document.body.style.margin='0';
document.documentElement.style.overflow='hidden';
var gd=document.querySelector('.plotly-graph-div');
Plotly.relayout(gd,{width:window.innerWidth,height:window.innerHeight});
"""
fig.write_html("out.html", post_script=fit_to_window, config={"displayModeBar": False})
